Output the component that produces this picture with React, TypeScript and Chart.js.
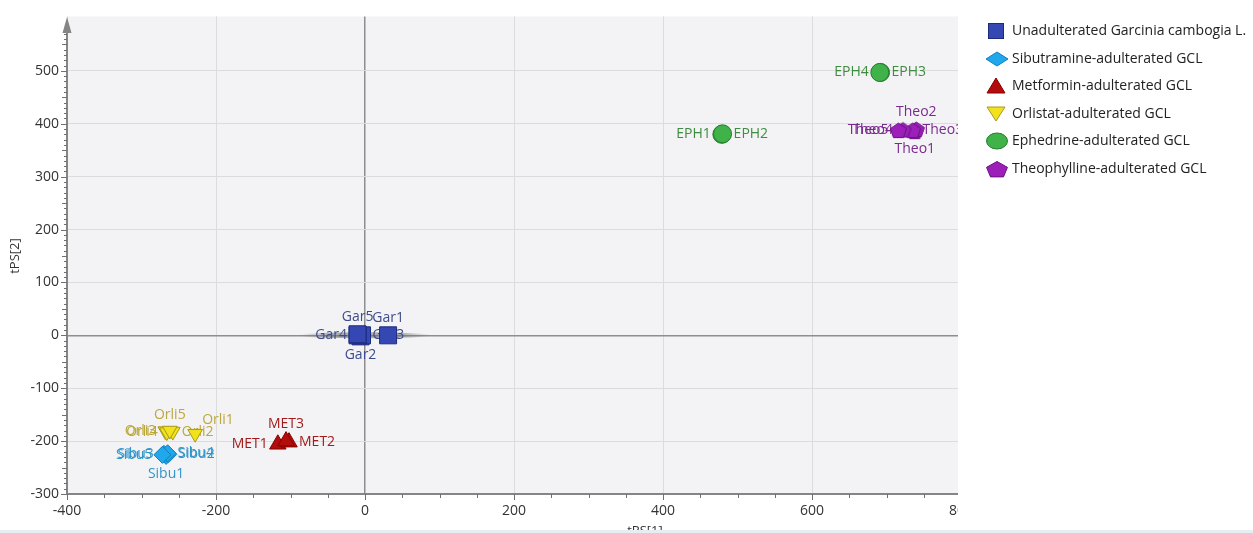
import { useEffect, useRef } from 'react';
import { Chart, registerables } from 'chart.js';

Chart.register(...registerables);

// ---------- data ----------
const seriesNames = [
  'Unadulterated Garcinia cambogia L.',
  'Sibutramine-adulterated GCL',
  'Metformin-adulterated GCL',
  'Orlistat-adulterated GCL',
  'Ephedrine-adulterated GCL',
  'Theophylline-adulterated GCL',
];

const garNames = ['Gar1', 'Gar2', 'Gar3', 'Gar4', 'Gar5'];
const garX = [31, -6, -4, -10, -10];
const garY = [0, -2, 0, 0, 2];

const sibuNames = ['Sibu1', 'Sibu2', 'Sibu3', 'Sibu4', 'Sibu5'];
const sibuX = [-267, -264, -270, -265, -272];
const sibuY = [-228, -225, -224, -223, -226];

const metNames = ['MET1', 'MET2', 'MET3'];
const metX = [-117, -102, -106];
const metY = [-206, -202, -200];

const orliNames = ['Orli1', 'Orli2', 'Orli3', 'Orli4', 'Orli5'];
const orliX = [-228, -258, -268, -266, -262];
const orliY = [-186, -182, -181, -183, -180];

const ephNames = ['EPH1', 'EPH2', 'EPH3', 'EPH4'];
const ephX = [479, 480, 692, 691];
const ephY = [380, 381, 497, 497];

const theoNames = ['Theo1', 'Theo2', 'Theo3', 'Theo4', 'Theo5'];
const theoX = [738, 740, 735, 722, 716];
const theoY = [386, 390, 388, 389, 388];

const xTickValues = [-400, -200, 0, 200, 400, 600, 800];
const yTickValues = [-300, -200, -100, 0, 100, 200, 300, 400, 500];
const xTitle = 'tPS[1]';
const yTitle = 'tPS[2]';

// ---------- style constants (label placement, colours) ----------
const garPlace = ['top', 'bottom', 'right', 'left', 'top'];
const sibuPlace = ['bottom', 'right', 'left', 'right', 'left'];
const metPlace = ['left', 'right', 'top'];
const orliPlace = ['topright', 'right', 'left', 'left', 'top'];
const ephPlace = ['left', 'right', 'right', 'left'];
const theoPlace = ['bottom', 'top', 'right', 'left', 'left'];

const FONT = '"Open Sans", "Noto Sans", sans-serif';

function pentagonCanvas(w: number, h: number, fill: string, stroke: string) {
  const c = document.createElement('canvas');
  c.width = w;
  c.height = h;
  const ctx = c.getContext('2d')!;
  pentPath(ctx, w / 2, h / 2 + 1, w / 2 - 1, h / 2 - 1);
  ctx.fillStyle = fill;
  ctx.fill();
  ctx.strokeStyle = stroke;
  ctx.lineWidth = 1;
  ctx.stroke();
  return c;
}

function pentPath(ctx: CanvasRenderingContext2D, cx: number, cy: number, rx: number, ry: number) {
  ctx.beginPath();
  for (let k = 0; k < 5; k++) {
    const a = -Math.PI / 2 + (k * 2 * Math.PI) / 5;
    const px = cx + rx * Math.cos(a);
    const py = cy + ry * Math.sin(a);
    if (k === 0) ctx.moveTo(px, py);
    else ctx.lineTo(px, py);
  }
  ctx.closePath();
}

const pts = (xs: number[], ys: number[]) => xs.map((x, i) => ({ x, y: ys[i] }));

export default function App() {
  const ref = useRef<HTMLCanvasElement>(null);

  useEffect(() => {
    const theoImg = pentagonCanvas(19, 18, '#9b1fb8', '#6b1283');

    const meta = [
      { names: garNames, place: garPlace, half: 8.5, color: '#3d4b8c' },
      { names: sibuNames, place: sibuPlace, half: 8, color: '#3295c8' },
      { names: metNames, place: metPlace, half: 8, color: '#a01b1b' },
      { names: orliNames, place: orliPlace, half: 7, color: '#bba83c' },
      { names: ephNames, place: ephPlace, half: 9, color: '#3e8c40' },
      { names: theoNames, place: theoPlace, half: 8, color: '#7a2a8e' },
    ];

    const bgPlugin = {
      id: 'bg',
      beforeDraw(chart: any) {
        const { ctx, chartArea } = chart;
        ctx.save();
        ctx.fillStyle = '#ffffff';
        ctx.fillRect(0, 0, chart.width, chart.height);
        ctx.fillStyle = '#f3f3f5';
        ctx.fillRect(chartArea.left, chartArea.top, chartArea.right - chartArea.left, chartArea.bottom - chartArea.top);
        ctx.restore();
      },
      beforeDatasetsDraw(chart: any) {
        const { ctx } = chart;
        const xs = chart.scales.x;
        const ys = chart.scales.y;
        // Gar confidence streak
        const cx = xs.getPixelForValue(0);
        const cy = ys.getPixelForValue(0);
        const rx = xs.getPixelForValue(90) - cx;
        ctx.save();
        const g = ctx.createLinearGradient(cx - rx, 0, cx + rx, 0);
        g.addColorStop(0, 'rgba(110,110,110,0)');
        g.addColorStop(0.25, 'rgba(110,110,110,0.55)');
        g.addColorStop(0.75, 'rgba(110,110,110,0.55)');
        g.addColorStop(1, 'rgba(110,110,110,0)');
        ctx.fillStyle = g;
        ctx.beginPath();
        ctx.ellipse(cx, cy, rx, 3, 0, 0, Math.PI * 2);
        ctx.fill();
        ctx.restore();

        // point labels
        ctx.save();
        ctx.font = `14px ${FONT}`;
        chart.data.datasets.forEach((_: any, di: number) => {
          const m = chart.getDatasetMeta(di);
          const info = meta[di];
          ctx.fillStyle = info.color;
          m.data.forEach((el: any, i: number) => {
            const px = el.x;
            const py = el.y;
            const h = info.half;
            const p = info.place[i];
            let tx = px;
            let ty = py;
            ctx.textBaseline = 'middle';
            if (p === 'left') {
              ctx.textAlign = 'right';
              tx = px - h - 2;
            } else if (p === 'right') {
              ctx.textAlign = 'left';
              tx = px + h + 2;
            } else if (p === 'top') {
              ctx.textAlign = 'center';
              ty = py - h - 9;
            } else if (p === 'bottom') {
              ctx.textAlign = 'center';
              ty = py + h + 10;
            } else {
              ctx.textAlign = 'left';
              tx = px + h;
              ty = py - h - 7;
            }
            ctx.fillText(info.names[i], tx, ty);
          });
        });
        ctx.restore();
      },
      afterDraw(chart: any) {
        const { ctx, chartArea } = chart;
        const xs = chart.scales.x;
        const ys = chart.scales.y;
        const L = chartArea.left;
        const B = chartArea.bottom;
        ctx.save();
        // cover right side (plot cut off)
        ctx.fillStyle = '#ffffff';
        ctx.fillRect(958, 0, chart.width - 958, chart.height);

        // axes
        ctx.strokeStyle = '#858585';
        ctx.fillStyle = '#858585';
        ctx.lineWidth = 2;
        ctx.beginPath();
        ctx.moveTo(L, B);
        ctx.lineTo(958, B);
        ctx.moveTo(L, B);
        ctx.lineTo(L, 30);
        ctx.stroke();
        ctx.beginPath();
        ctx.moveTo(L, 17);
        ctx.lineTo(L + 4.5, 33);
        ctx.lineTo(L - 4.5, 33);
        ctx.closePath();
        ctx.fill();

        // ticks
        ctx.lineWidth = 1;
        ctx.strokeStyle = '#707070';
        ctx.beginPath();
        for (let v = -400; v <= 800; v += 50) {
          const px = Math.round(xs.getPixelForValue(v)) + 0.5;
          if (px > 957) continue;
          const len = v % 200 === 0 ? 6 : 4;
          ctx.moveTo(px, B);
          ctx.lineTo(px, B + len);
        }
        for (let v = -300; v <= 600; v += 10) {
          const py = Math.round(ys.getPixelForValue(v)) + 0.5;
          if (py < 34) continue;
          const len = v % 100 === 0 ? 6 : v % 50 === 0 ? 5 : 3;
          ctx.moveTo(L, py);
          ctx.lineTo(L - len, py);
        }
        ctx.stroke();

        // titles
        ctx.fillStyle = '#333333';
        ctx.font = `13px ${FONT}`;
        ctx.textAlign = 'center';
        ctx.textBaseline = 'top';
        ctx.fillText(xTitle, 645, 525);
        ctx.save();
        ctx.translate(15, 256);
        ctx.rotate(-Math.PI / 2);
        ctx.textBaseline = 'middle';
        ctx.fillText(yTitle, 0, 0);
        ctx.restore();

        // bottom border strip
        ctx.fillStyle = '#e6edf3';
        ctx.fillRect(0, 530, chart.width, 3);

        // legend
        const ly = [31, 59, 86, 114, 141, 169];
        const sx = 996;
        ctx.lineWidth = 1;
        // square
        ctx.fillStyle = '#3447b3';
        ctx.strokeStyle = '#1d2b7e';
        ctx.fillRect(988, ly[0] - 8, 16, 16);
        ctx.strokeRect(988.5, ly[0] - 7.5, 15, 15);
        // diamond
        ctx.fillStyle = '#1fa8eb';
        ctx.strokeStyle = '#137fbf';
        ctx.beginPath();
        ctx.moveTo(sx - 10, ly[1]);
        ctx.lineTo(sx + 1, ly[1] - 7);
        ctx.lineTo(sx + 12, ly[1]);
        ctx.lineTo(sx + 1, ly[1] + 7);
        ctx.closePath();
        ctx.fill();
        ctx.stroke();
        // triangle up
        ctx.fillStyle = '#b30c0c';
        ctx.strokeStyle = '#8a0000';
        ctx.beginPath();
        ctx.moveTo(sx, ly[2] - 8);
        ctx.lineTo(sx + 9, ly[2] + 7);
        ctx.lineTo(sx - 9, ly[2] + 7);
        ctx.closePath();
        ctx.fill();
        ctx.stroke();
        // triangle down
        ctx.fillStyle = '#f2e21e';
        ctx.strokeStyle = '#a89a1c';
        ctx.beginPath();
        ctx.moveTo(sx - 9, ly[3] - 7);
        ctx.lineTo(sx + 9, ly[3] - 7);
        ctx.lineTo(sx, ly[3] + 7);
        ctx.closePath();
        ctx.fill();
        ctx.stroke();
        // ellipse
        ctx.fillStyle = '#3fb34a';
        ctx.strokeStyle = '#2a7d30';
        ctx.beginPath();
        ctx.ellipse(sx + 1, ly[4], 10.5, 8, 0, 0, Math.PI * 2);
        ctx.fill();
        ctx.stroke();
        // pentagon
        ctx.fillStyle = '#9b1fb8';
        ctx.strokeStyle = '#6b1283';
        pentPath(ctx, sx + 1, ly[5] + 1, 11, 8.5);
        ctx.fill();
        ctx.stroke();

        ctx.fillStyle = '#222222';
        ctx.font = `14px ${FONT}`;
        ctx.textAlign = 'left';
        ctx.textBaseline = 'middle';
        seriesNames.forEach((n, i) => ctx.fillText(n, 1012, ly[i]));
        ctx.restore();
      },
    };

    const gridOpts = {
      drawTicks: false,
      color: (c: any) => (c.tick && c.tick.value === 0 ? '#8e8e8e' : '#dcdcdc'),
      lineWidth: (c: any) => (c.tick && c.tick.value === 0 ? 1.5 : 1),
    };

    const chart = new Chart(ref.current!, {
      type: 'scatter',
      data: {
        datasets: [
          { label: seriesNames[0], data: pts(garX, garY), pointStyle: 'rect', pointRadius: 12, backgroundColor: '#3447b3', borderColor: '#1d2b7e', borderWidth: 1 },
          { label: seriesNames[1], data: pts(sibuX, sibuY), pointStyle: 'rectRot', pointRadius: 8.5, backgroundColor: '#1fa8eb', borderColor: '#137fbf', borderWidth: 1 },
          { label: seriesNames[2], data: pts(metX, metY), pointStyle: 'triangle', pointRadius: 9.5, backgroundColor: '#b30c0c', borderColor: '#8a0000', borderWidth: 1 },
          { label: seriesNames[3], data: pts(orliX, orliY), pointStyle: 'triangle', pointRotation: 180, pointRadius: 8.5, backgroundColor: '#f2e21e', borderColor: '#a89a1c', borderWidth: 1 },
          { label: seriesNames[4], data: pts(ephX, ephY), pointStyle: 'circle', pointRadius: 9, backgroundColor: '#3fb34a', borderColor: '#2a7d30', borderWidth: 1 },
          { label: seriesNames[5], data: pts(theoX, theoY), pointStyle: theoImg, pointRadius: 9, backgroundColor: '#9b1fb8', borderColor: '#6b1283', borderWidth: 1 },
        ] as any,
      },
      options: {
        responsive: false,
        animation: false,
        events: [],
        layout: { padding: { top: 15, right: 292, left: 0, bottom: 0 } },
        plugins: { legend: { display: false }, tooltip: { enabled: false } },
        scales: {
          x: {
            type: 'linear',
            min: -400,
            max: 800,
            afterFit: (s: any) => { s.height = 39; },
            afterBuildTicks: (s: any) => { s.ticks = xTickValues.map((v) => ({ value: v })); },
            ticks: { padding: 9, color: '#333333', font: { size: 14, family: FONT }, maxRotation: 0, autoSkip: false },
            grid: gridOpts as any,
            border: { display: false },
          },
          y: {
            type: 'linear',
            min: -300,
            max: 603,
            afterFit: (s: any) => { s.width = 67; },
            afterBuildTicks: (s: any) => { s.ticks = yTickValues.map((v) => ({ value: v })); },
            ticks: { padding: 8, color: '#333333', font: { size: 14, family: FONT }, autoSkip: false },
            grid: gridOpts as any,
            border: { display: false },
          },
        },
      },
      plugins: [bgPlugin],
    });
    return () => chart.destroy();
  }, []);

  return (
    <div style={{ position: 'fixed', left: 0, top: 0, width: 1253, height: 533, background: '#fff' }}>
      <canvas ref={ref} width={1253} height={533} style={{ display: 'block', width: 1253, height: 533 }} />
    </div>
  );
}
